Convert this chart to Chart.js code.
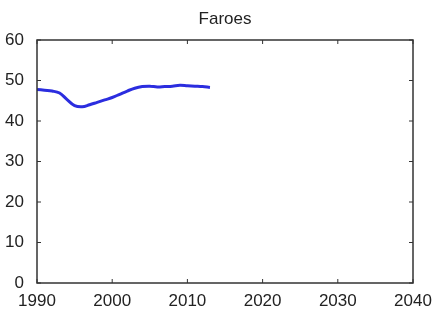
<!DOCTYPE html>
<html>
<head>
<meta charset="utf-8">
<script src="https://cdn.jsdelivr.net/npm/chart.js@4"></script>
<style>
  html, body { margin: 0; padding: 0; background: #fff; }
  #wrap { width: 435px; height: 309px; }
</style>
</head>
<body>
<div id="wrap"><canvas id="chart" width="435" height="309"></canvas></div>
<script>
const title = "Faroes";
const years = [1990, 1991, 1992, 1993, 1994, 1995, 1996, 1997, 1998, 1999, 2000, 2001,
  2002, 2003, 2004, 2005, 2006, 2007, 2008, 2009, 2010, 2011, 2012, 2013];
const values = [47.8, 47.6, 47.4, 46.9, 45.3, 43.8, 43.5, 44.0, 44.6, 45.2, 45.8, 46.6,
  47.4, 48.1, 48.5, 48.6, 48.4, 48.5, 48.6, 48.8, 48.7, 48.6, 48.5, 48.3];
const xTicks = [1990, 2000, 2010, 2020, 2030, 2040];
const yTicks = [0, 10, 20, 30, 40, 50, 60];

const font = { family: "'Liberation Sans', Arial, sans-serif", size: 17 };
const ink = "#222";

// MATLAB-like box with inward tick marks, plus the title
const boxPlugin = {
  id: "box",
  afterDraw(chart) {
    const { ctx, chartArea: a, scales } = chart;
    ctx.save();
    ctx.strokeStyle = "#333";
    ctx.lineWidth = 1.5;
    ctx.strokeRect(a.left, a.top, a.right - a.left, a.bottom - a.top);
    ctx.lineWidth = 1;
    const t = 4;
    ctx.beginPath();
    xTicks.forEach(v => {
      const x = scales.x.getPixelForValue(v);
      ctx.moveTo(x, a.bottom); ctx.lineTo(x, a.bottom - t);
      ctx.moveTo(x, a.top); ctx.lineTo(x, a.top + t);
    });
    yTicks.forEach(v => {
      const y = scales.y.getPixelForValue(v);
      ctx.moveTo(a.left, y); ctx.lineTo(a.left + t, y);
      ctx.moveTo(a.right, y); ctx.lineTo(a.right - t, y);
    });
    ctx.stroke();
    ctx.fillStyle = ink;
    ctx.font = `17px ${font.family}`;
    ctx.textAlign = "center";
    ctx.textBaseline = "middle";
    ctx.fillText(title, (a.left + a.right) / 2, 19);
    ctx.restore();
  }
};

new Chart(document.getElementById("chart").getContext("2d"), {
  type: "line",
  data: {
    datasets: [{
      data: years.map((y, i) => ({ x: y, y: values[i] })),
      borderColor: "#2b2ddf",
      borderWidth: 3,
      pointRadius: 0,
      tension: 0.4,
      fill: false
    }]
  },
  options: {
    responsive: false,
    animation: false,
    layout: { padding: { left: 0, right: 22, top: 40, bottom: 0 } },
    plugins: { legend: { display: false }, title: { display: false }, tooltip: { enabled: false } },
    scales: {
      x: {
        type: "linear",
        min: 1990, max: 2040,
        afterBuildTicks: s => { s.ticks = xTicks.map(v => ({ value: v })); },
        afterFit: s => { s.height = 26; },
        grid: { display: false },
        border: { display: false },
        ticks: { font, color: ink, padding: 0, maxRotation: 0, callback: v => String(v) }
      },
      y: {
        min: 0, max: 60,
        afterBuildTicks: s => { s.ticks = yTicks.map(v => ({ value: v })); },
        afterFit: s => { s.width = 37; },
        grid: { display: false },
        border: { display: false },
        ticks: { font, color: ink, padding: 5 }
      }
    }
  },
  plugins: [boxPlugin]
});
</script>
</body>
</html>
